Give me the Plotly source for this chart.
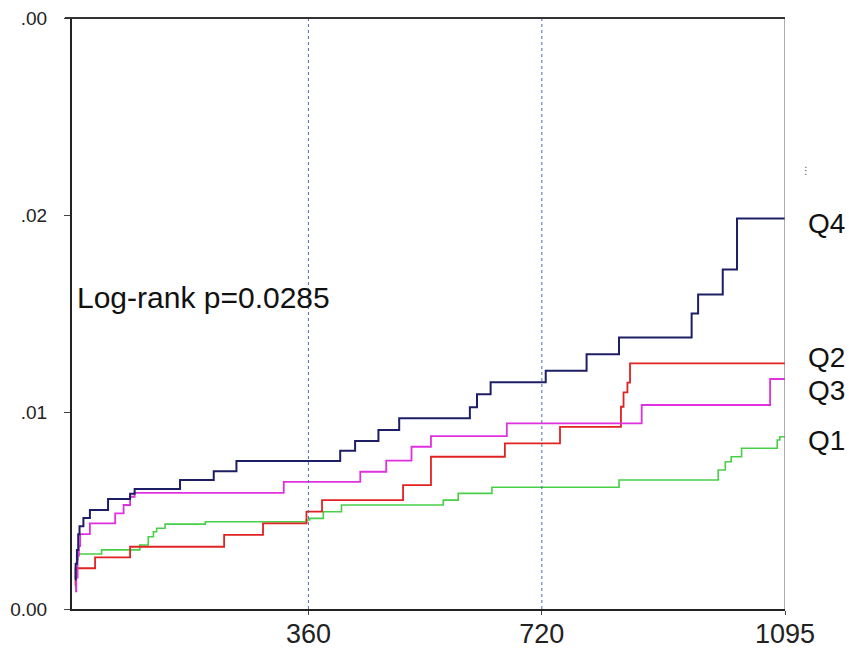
import plotly.graph_objects as go

# ---- data (days, cumulative incidence) ----
q4_days = [0, 1, 3, 5, 7, 13, 23, 51, 85, 92, 162, 214, 249, 409, 432, 468, 500, 609, 620, 641, 726, 789, 839, 951, 961, 999, 1021, 1095]
q4_vals = [0.0015, 0.0023, 0.0030, 0.0038, 0.0042, 0.00462, 0.00503, 0.00558, 0.00585, 0.00609, 0.00655, 0.0070, 0.00751, 0.00804, 0.00853, 0.00909, 0.00968, 0.01024, 0.0109, 0.01151, 0.0121, 0.01294, 0.01379, 0.01501, 0.01597, 0.01724, 0.01983, 0.01983]

q3_days = [0, 2, 4, 6, 8, 23, 62, 75, 85, 92, 322, 440, 480, 519, 549, 666, 874, 1072, 1095]
q3_vals = [0.0009, 0.0016, 0.0027, 0.0032, 0.0038, 0.00435, 0.00486, 0.00528, 0.0057, 0.0059, 0.00646, 0.00697, 0.00753, 0.00824, 0.00878, 0.00943, 0.01036, 0.01168, 0.01168]

q2_days = [0, 1, 31, 85, 230, 290, 357, 381, 506, 549, 663, 748, 842, 846, 852, 856, 1095]
q2_vals = [0.0012, 0.00207, 0.00262, 0.00316, 0.00376, 0.00435, 0.00494, 0.00553, 0.00629, 0.00773, 0.00841, 0.00925, 0.01027, 0.0110, 0.0115, 0.01247, 0.01247]

q1_days = [0, 1, 3, 5, 41, 100, 113, 121, 126, 139, 201, 357, 362, 383, 411, 568, 591, 643, 839, 992, 1003, 1012, 1028, 1083, 1087, 1095]
q1_vals = [0.0010, 0.00198, 0.0025, 0.00279, 0.0030, 0.00325, 0.00367, 0.00392, 0.0041, 0.00431, 0.00443, 0.00452, 0.0046, 0.00494, 0.00528, 0.00553, 0.00587, 0.00618, 0.00655, 0.00706, 0.00748, 0.00773, 0.00816, 0.00858, 0.00875, 0.00875]

x_ticks = [360, 720, 1095]
x_ticktext = ["360", "720", "1095"]
y_ticks = [0, 0.01, 0.02, 0.03]
y_ticktext = ["0.00", ".01", ".02", ".00"]

series = [
    ("Q1", q1_days, q1_vals, "#48cf48", 1.6),
    ("Q2", q2_days, q2_vals, "#e02222", 1.8),
    ("Q3", q3_days, q3_vals, "#e030e0", 1.8),
    ("Q4", q4_days, q4_vals, "#1e1e66", 2.0),
]
label_y = {"Q4": 0.0196, "Q2": 0.01279, "Q3": 0.01112, "Q1": 0.00858}

FONT = "Liberation Sans, Arial, Helvetica, sans-serif"

fig = go.Figure()
for name, xs, ys, color, w in series:
    fig.add_trace(go.Scatter(x=xs, y=ys, mode="lines", line=dict(color=color, width=w, shape="hv"),
                             name=name, showlegend=False))

# dotted reference lines
for xv in [360, 720]:
    fig.add_shape(type="line", x0=xv, x1=xv, y0=0, y1=1, xref="x", yref="paper",
                  line=dict(color="#4a6fa5", width=1, dash="dot"))
# right frame line
fig.add_shape(type="line", x0=1095, x1=1095, y0=0, y1=1, xref="x", yref="paper",
              line=dict(color="#777777", width=1.2))

for name, yv in label_y.items():
    fig.add_annotation(x=1095, y=yv, text=name, showarrow=False, xanchor="left", yanchor="middle",
                       xshift=21, font=dict(family=FONT, size=28, color="#111111"))

fig.add_annotation(x=0, y=0.01584, text="Log-rank p=0.0285", showarrow=False, xanchor="left",
                   yanchor="middle", font=dict(family=FONT, size=30, color="#111111"))
fig.add_annotation(x=1095, y=0.02228, text="⋮", showarrow=False, xanchor="left", yanchor="middle",
                   xshift=14, font=dict(family="DejaVu Sans", size=10, color="#555555"))

fig.update_layout(
    width=849, height=652,
    margin=dict(l=72, r=64, t=18, b=43, autoexpand=False),
    plot_bgcolor="white", paper_bgcolor="white",
    font=dict(family=FONT, color="#222222"),
)
fig.update_xaxes(range=[-4.6, 1095], tickvals=x_ticks, ticktext=x_ticktext, automargin=False,
                 showgrid=False, zeroline=False, showline=True, linecolor="#222222", linewidth=2,
                 mirror=False, ticks="outside", ticklen=4, tickcolor="#444444", ticklabelstandoff=-4,
                 tickfont=dict(family=FONT, size=27, color="#222222"))
fig.update_yaxes(range=[0, 0.03001], tickvals=y_ticks, ticktext=y_ticktext, automargin=False,
                 showgrid=False, zeroline=False, showline=True, linecolor="#222222", linewidth=2,
                 ticks="outside", ticklen=6, tickcolor="#444444", ticklabelstandoff=13,
                 tickfont=dict(family=FONT, size=19, color="#222222"))
# top frame line
fig.add_shape(type="line", x0=-0.01, x1=1, y0=1, y1=1, xref="paper", yref="paper",
              line=dict(color="#333333", width=2))

fig.write_html("out.html", config={"displayModeBar": False},
               post_script="document.body.style.margin='0px';")
